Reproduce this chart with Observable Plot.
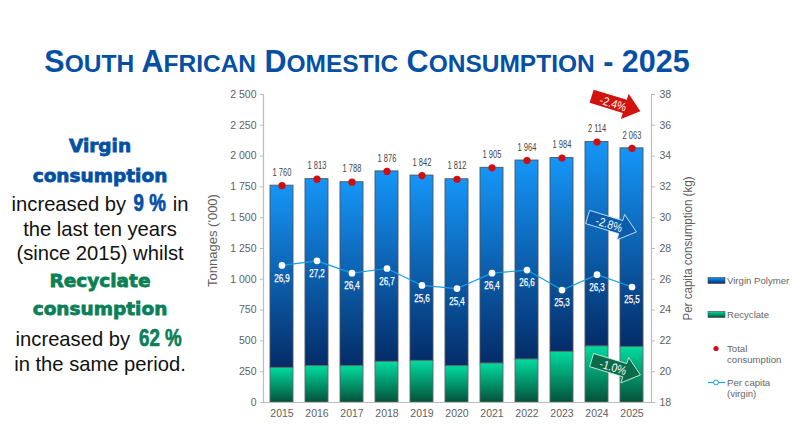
<!DOCTYPE html>
<html><head><meta charset="utf-8">
<script src="https://cdn.jsdelivr.net/npm/d3@7"></script>
<script src="https://cdn.jsdelivr.net/npm/@observablehq/plot@0.6"></script>
<style>
html,body{margin:0;padding:0;background:#fff;width:800px;height:425px;overflow:hidden;font-family:"Liberation Sans",Arial,sans-serif}
#chart{position:absolute;left:0;top:0}
.title{position:absolute;left:0;top:43px;width:734px;text-align:center;color:#0550a5;font-weight:bold;font-size:30.5px;line-height:36px;white-space:nowrap}
.title small{font-size:24.5px}
.line{position:absolute;left:0;width:200px;text-align:center;font-size:20.2px;line-height:24px;color:#111;white-space:nowrap}
.hv{font-family:"DejaVu Sans";font-weight:bold;-webkit-text-stroke:.8px currentColor}
.hn{font-weight:bold;-webkit-text-stroke:.7px currentColor;display:inline-block;transform:scaleX(.78);margin:0 -3px}
.leg{position:absolute;font-size:9.6px;line-height:11px;color:#666}
.sw{position:absolute}
</style></head><body>
<div id="chart"></div>
<script>
const years = ["2015","2016","2017","2018","2019","2020","2021","2022","2023","2024","2025"];
const totalConsumption = [1760,1813,1788,1876,1842,1812,1905,1964,1984,2114,2063];
const recycle = [281,295,295,330,338,295,316,349,411,455,450];
const perCapita = [26.9,27.2,26.4,26.7,25.6,25.4,26.4,26.6,25.3,26.3,25.5];
const yTicks = [0,250,500,750,1000,1250,1500,1750,2000,2250,2500];
const perCapitaTicks = [18,20,22,24,26,28,30,32,34,36,38];
const titleText = "South African Domestic Consumption - 2025";
const yLabel = "Tonnages ('000)";
const y2Label = "Per capita consumption (kg)";

const toY = v => (v - 18) * 125;
const table = years.map((year,i)=>({year,total:totalConsumption[i],recycle:recycle[i],pc:perCapita[i]}));
const spaced = d => d3.format(",")(d).replace(",", " ");
const comma = d => d.toFixed(1).replace(".", ",");

const arrowSymbol = {draw(c,size){
  const r=Math.sqrt(size/Math.PI);
  c.moveTo(-r,-.27*r);c.lineTo(.36*r,-.27*r);c.lineTo(.36*r,-.52*r);c.lineTo(r,0);
  c.lineTo(.36*r,.52*r);c.lineTo(.36*r,.27*r);c.lineTo(-r,.27*r);c.closePath();
}};
function arrow(year,val,label,fill,stroke,dx){
  const d=[{year,val,label}];
  return [
    Plot.dot(d,{x:"year",y:"val",dx,r:25.5,symbol:arrowSymbol,rotate:17,fill,stroke,strokeWidth:.8}),
    Plot.text(d,{x:"year",y:"val",dx:dx-3,text:"label",rotate:17,fill:"white",fontSize:12,className:"sq87"})
  ];
}
const defs = () => {
  const s=d3.create("svg:defs");
  const g=(id,a,b)=>{const l=s.append("linearGradient").attr("id",id).attr("x1",0).attr("x2",0).attr("y1",0).attr("y2",1);
    l.append("stop").attr("offset","0").attr("stop-color",a);l.append("stop").attr("offset","1").attr("stop-color",b);};
  g("gv","#1596f8","#042c68");g("gr","#00dca0","#04523a");
  return s.node();
};
const axisColor="#bdbdbd", textColor="#5f5f5f";
const plot = Plot.plot({
  width:800,height:425,marginLeft:263,marginRight:149,marginTop:94,marginBottom:23,
  style:{fontFamily:"Liberation Sans",background:"transparent"},
  x:{type:"band",domain:years,paddingInner:.33,paddingOuter:.165,label:null},
  y:{domain:[0,2500],label:null},
  marks:[
    defs,
    Plot.barY(table,{x:"year",y1:"recycle",y2:"total",fill:"url(#gv)",stroke:"#4c5560",strokeWidth:.9}),
    Plot.barY(table,{x:"year",y1:0,y2:"recycle",fill:"url(#gr)",stroke:"#5a6a64",strokeWidth:.9}),
    Plot.frame({anchor:"left",stroke:axisColor,strokeWidth:1.2}),
    Plot.frame({anchor:"right",stroke:axisColor,strokeWidth:1.2}),
    Plot.frame({anchor:"bottom",stroke:axisColor,strokeWidth:1.2}),
    Plot.axisY({anchor:"left",ticks:yTicks,tickFormat:spaced,tickSize:3,tickPadding:4,stroke:axisColor,fill:textColor,fontSize:10.5,label:null}),
    Plot.axisY({anchor:"right",ticks:perCapitaTicks.map(toY),tickFormat:d=>String(18+d/125),tickSize:3,tickPadding:5,stroke:axisColor,fill:textColor,fontSize:10.5,label:null}),
    Plot.axisX({anchor:"bottom",tickSize:0,tickPadding:7,fill:textColor,fontSize:10.5,label:null}),
    Plot.line(table,{x:"year",y:d=>toY(d.pc),stroke:"#1b9fe2",strokeWidth:1.2}),
    Plot.dot(table,{x:"year",y:d=>toY(d.pc),r:2.6,fill:"white",stroke:"white"}),
    Plot.text(table,{x:"year",y:d=>toY(d.pc),text:d=>comma(d.pc),dy:13,fill:"white",stroke:"white",strokeWidth:.25,fontSize:10,className:"sq80"}),
    Plot.dot(table,{x:"year",y:"total",r:3.6,fill:"#d20c10"}),
    Plot.text(table,{x:"year",y:"total",text:d=>spaced(d.total),dy:-13,fill:"#444",fontSize:10,className:"sq75"}),
    ...arrow("2025",2425,"-2.4%","#d2120c","none",-16),
    ...arrow("2025",1445,"-2.8%","#0a5cad","#d7e9f7",-20),
    ...arrow("2025",284,"-1.0%","#0b6b4a","#d5efe5",-16),
    Plot.text([yLabel],{text:d=>d,frameAnchor:"left",textAnchor:"middle",dx:-51,dy:-8,rotate:-90,fill:textColor,fontSize:13}),
    Plot.text([y2Label],{text:d=>d,frameAnchor:"right",textAnchor:"middle",dx:36,rotate:-90,fill:textColor,fontSize:13,className:"sq89"})
  ]
});
document.getElementById("chart").append(plot);
// The reference's labels are set in a condensed face: squeeze real text to its measured width
for(const [cls,k] of [["sq75",.75],["sq80",.8],["sq87",.87],["sq89",.89]]){
  plot.querySelectorAll("."+cls+" text, g."+cls+" text").forEach(n=>{
    n.setAttribute("lengthAdjust","spacingAndGlyphs");
    n.setAttribute("textLength",(n.getComputedTextLength()*k).toFixed(1));
  });
}

// Title (small caps built from the title string)
const t=document.createElement("div");t.className="title";
t.innerHTML=titleText.split(" ").map(w=>/^[A-Z]/.test(w)?w[0]+"<small>"+w.slice(1).toUpperCase()+"</small>":w).join(" ");
document.body.append(t);

// Left commentary
const blue="#0550a5", green="#0b7f57";
const commentary=[
 [133,[["Virgin",blue,18.5,"hv"]]],
 [163,[["consumption",blue,18.5,"hv"]]],
 [191,[["increased by ",null],["9 %",blue,24,"hn"],[" in",null]]],
 [217,[["the last ten years",null]]],
 [241,[["(since 2015) whilst",null]]],
 [268,[["Recyclate",green,18.5,"hv"]]],
 [296,[["consumption",green,18.5,"hv"]]],
 [326,[["increased by ",null],["62 %",green,24,"hn"]]],
 [352,[["in the same period.",null]]]
];
for(const [top,segs] of commentary){
  const l=document.createElement("div");l.className="line";l.style.top=top+"px";
  for(const [txt,col,size,cls] of segs){
    const s=document.createElement("span");s.textContent=txt;
    if(col){s.className=cls;s.style.color=col;s.style.fontSize=size+"px";}
    l.append(s);
  }
  document.body.append(l);
}

// Legend
const legend=[
 [274.5,["Virgin Polymer"],"bar","#1596f8","#042c68"],
 [308.5,["Recyclate"],"bar","#00dca0","#04523a"],
 [342.5,["Total","consumption"],"dot"],
 [376.5,["Per capita","(virgin)"],"line"]
];
for(const [top,lines,kind,c1,c2] of legend){
  const d=document.createElement("div");d.className="leg";d.style.left="727px";d.style.top=top+"px";
  d.innerHTML=lines.join("<br>");document.body.append(d);
  const s=document.createElementNS("http://www.w3.org/2000/svg","svg");
  s.setAttribute("class","sw");s.setAttribute("width",20);s.setAttribute("height",12);
  s.style.left="707px";s.style.top=(top)+"px";
  if(kind==="bar")s.innerHTML=`<defs><linearGradient id="l${top}" x1="0" x2="0" y1="0" y2="1"><stop offset="0" stop-color="${c1}"/><stop offset="1" stop-color="${c2}"/></linearGradient></defs><rect x="1" y="2.5" width="17" height="6" fill="url(#l${top})" stroke="#444" stroke-width=".6"/>`;
  if(kind==="dot")s.innerHTML=`<circle cx="9" cy="5.5" r="2.6" fill="#d20c10"/>`;
  if(kind==="line")s.innerHTML=`<line x1="1" x2="18" y1="5.5" y2="5.5" stroke="#1b9fe2" stroke-width="1.2"/><circle cx="9" cy="5.5" r="2.4" fill="white" stroke="#1b9fe2"/>`;
  document.body.append(s);
}
</script>
</body></html>
